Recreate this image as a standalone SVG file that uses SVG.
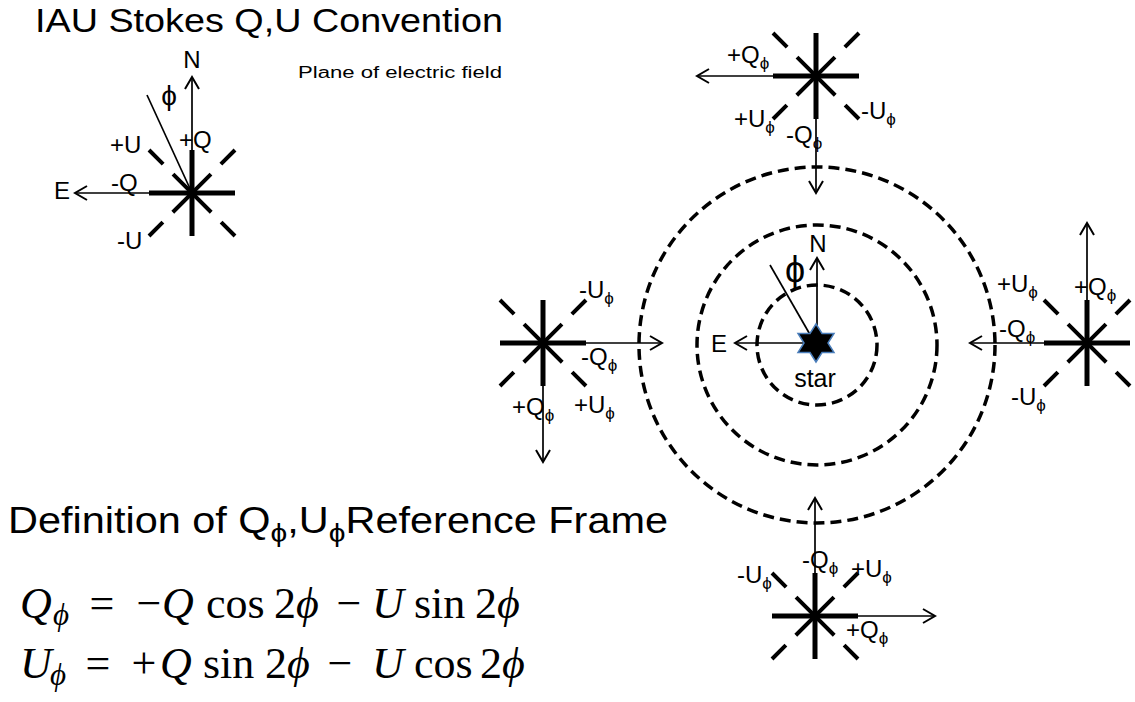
<svg xmlns="http://www.w3.org/2000/svg" xmlns:xlink="http://www.w3.org/1999/xlink" width="1135" height="702" viewBox="0 0 1135 702">
<style>
.thick{stroke:#000;stroke-width:5;fill:none}
.diag{stroke:#000;stroke-width:4;fill:none;stroke-dasharray:20 14 54 14 20}
.thin{stroke:#000;stroke-width:1.7;fill:none}
.arr{marker-end:url(#ah)}
.ring{fill:none;stroke:#000;stroke-width:3.5;stroke-dasharray:11 6}
.sans{font-family:"Liberation Sans","DejaVu Sans",Arial,sans-serif;fill:#000}
.lbl{font-size:24px}
.sub{font-size:17px}
.big{font-size:24px}
.math{font-family:"Liberation Serif","Times New Roman",serif;font-size:44px;fill:#000}
.it{font-style:italic}
.msub{font-size:31px;font-style:italic}
</style>
<defs>
<marker id="ah" markerUnits="userSpaceOnUse" markerWidth="16" markerHeight="16" refX="13" refY="8" orient="auto">
<path d="M1,1 L13,8 L1,15" fill="none" stroke="#000" stroke-width="2"/>
</marker>
<g id="cross">
<line x1="-43" y1="0" x2="43" y2="0" class="thick"/>
<line x1="0" y1="-43" x2="0" y2="43" class="thick"/>
<line x1="-43" y1="-43" x2="43" y2="43" class="diag"/>
<line x1="43" y1="-43" x2="-43" y2="43" class="diag"/>
</g>
</defs>
<rect width="1135" height="702" fill="#fff"/>

<g id="title">
<text x="35" y="32" class="sans" font-size="34" textLength="468" lengthAdjust="spacingAndGlyphs">IAU Stokes Q,U Convention</text>
</g>
<g id="subtitle">
<text x="298" y="78" class="sans" font-size="16" textLength="204" lengthAdjust="spacingAndGlyphs">Plane of electric field</text>
</g>

<g id="rings">
<circle cx="817" cy="345" r="178" class="ring"/>
<circle cx="817" cy="345" r="120" class="ring"/>
<circle cx="817" cy="345" r="60" class="ring"/>
</g>

<g id="connectors">
<line x1="192" y1="193" x2="192" y2="77" class="thin arr"/>
<line x1="192" y1="193" x2="75" y2="193" class="thin arr"/>
<line x1="192" y1="193" x2="147" y2="95" class="thin"/>
<line x1="816" y1="76" x2="697" y2="76" class="thin arr"/>
<line x1="816" y1="76" x2="816" y2="193" class="thin arr"/>
<line x1="543" y1="343" x2="662" y2="343" class="thin arr"/>
<line x1="543" y1="343" x2="543" y2="462" class="thin arr"/>
<line x1="1087" y1="343" x2="970" y2="343" class="thin arr"/>
<line x1="1087" y1="343" x2="1087" y2="223" class="thin arr"/>
<line x1="815" y1="616" x2="935" y2="616" class="thin arr"/>
<line x1="815" y1="616" x2="815" y2="498" class="thin arr"/>
<line x1="817" y1="343" x2="817" y2="258" class="thin arr"/>
<line x1="817" y1="343" x2="735" y2="343" class="thin arr"/>
<line x1="812" y1="338" x2="770" y2="265" class="thin"/>
</g>

<g id="compass-iau">
<use xlink:href="#cross" href="#cross" x="192" y="193"/>
<text x="192" y="68" class="sans big" text-anchor="middle">N</text>
<text x="169" y="105" class="sans" font-size="28" text-anchor="middle">ϕ</text>
<text x="179" y="148" class="sans big">+Q</text>
<text x="110" y="153" class="sans big">+U</text>
<text x="111" y="191" class="sans big">-Q</text>
<text x="54" y="199" class="sans big">E</text>
<text x="117" y="249" class="sans big">-U</text>
</g>

<g id="cross-top">
<use xlink:href="#cross" href="#cross" x="816" y="76"/>
<text x="727" y="63" class="sans lbl">+Q<tspan class="sub" dy="6">ϕ</tspan></text>
<text x="734" y="127" class="sans lbl">+U<tspan class="sub" dy="6">ϕ</tspan></text>
<text x="786" y="143" class="sans lbl">-Q<tspan class="sub" dy="6">ϕ</tspan></text>
<text x="861" y="119" class="sans lbl">-U<tspan class="sub" dy="6">ϕ</tspan></text>
</g>

<g id="cross-left">
<use xlink:href="#cross" href="#cross" x="543" y="343"/>
<text x="579" y="298" class="sans lbl">-U<tspan class="sub" dy="6">ϕ</tspan></text>
<text x="581" y="365" class="sans lbl">-Q<tspan class="sub" dy="6">ϕ</tspan></text>
<text x="512" y="415" class="sans lbl">+Q<tspan class="sub" dy="6">ϕ</tspan></text>
<text x="574" y="413" class="sans lbl">+U<tspan class="sub" dy="6">ϕ</tspan></text>
</g>

<g id="cross-right">
<use xlink:href="#cross" href="#cross" x="1087" y="343"/>
<text x="997" y="292" class="sans lbl">+U<tspan class="sub" dy="6">ϕ</tspan></text>
<text x="1074" y="295" class="sans lbl">+Q<tspan class="sub" dy="6">ϕ</tspan></text>
<text x="999" y="337" class="sans lbl">-Q<tspan class="sub" dy="6">ϕ</tspan></text>
<text x="1011" y="405" class="sans lbl">-U<tspan class="sub" dy="6">ϕ</tspan></text>
</g>

<g id="cross-bottom">
<use xlink:href="#cross" href="#cross" x="815" y="616"/>
<text x="737" y="583" class="sans lbl">-U<tspan class="sub" dy="6">ϕ</tspan></text>
<text x="802" y="568" class="sans lbl">-Q<tspan class="sub" dy="6">ϕ</tspan></text>
<text x="851" y="577" class="sans lbl">+U<tspan class="sub" dy="6">ϕ</tspan></text>
<text x="846" y="638" class="sans lbl">+Q<tspan class="sub" dy="6">ϕ</tspan></text>
</g>

<g id="star">
<polygon points="816,324 822,333.5 834,333.5 828,343 834,352.5 822,352.5 816,362 810,352.5 798,352.5 804,343 798,333.5 810,333.5" fill="#000" stroke="#4a7ebb" stroke-width="1.5"/>
<text x="818" y="252" class="sans big" text-anchor="middle">N</text>
<text x="711" y="352" class="sans big">E</text>
<text x="795" y="282" class="sans" font-size="36" text-anchor="middle">ϕ</text>
<text x="815" y="387" class="sans" font-size="25" text-anchor="middle">star</text>
</g>

<g id="definition">
<text x="8" y="533" class="sans" font-size="36" textLength="660" lengthAdjust="spacingAndGlyphs">Definition of Q<tspan font-size="26" dy="9">ϕ</tspan><tspan dy="-9">,U</tspan><tspan font-size="26" dy="9">ϕ</tspan><tspan dy="-9">Reference Frame</tspan></text>
</g>

<g id="eq1">
<text y="618" class="math"><tspan x="20" class="it">Q</tspan><tspan x="53" dy="7" class="msub">ϕ</tspan><tspan x="102" dy="-7" text-anchor="middle">=</tspan><tspan x="149" text-anchor="middle">−</tspan><tspan x="162" class="it">Q</tspan><tspan x="206">cos</tspan><tspan x="274">2</tspan><tspan x="296" class="it">ϕ</tspan><tspan x="349" text-anchor="middle">−</tspan><tspan x="372" class="it">U</tspan><tspan x="414">sin</tspan><tspan x="475">2</tspan><tspan x="497" class="it">ϕ</tspan></text>
</g>
<g id="eq2">
<text y="678" class="math"><tspan x="20" class="it">U</tspan><tspan x="50" dy="7" class="msub">ϕ</tspan><tspan x="98" dy="-7" text-anchor="middle">=</tspan><tspan x="144" text-anchor="middle">+</tspan><tspan x="160" class="it">Q</tspan><tspan x="203">sin</tspan><tspan x="265">2</tspan><tspan x="287" class="it">ϕ</tspan><tspan x="340" text-anchor="middle">−</tspan><tspan x="372" class="it">U</tspan><tspan x="414">cos</tspan><tspan x="480">2</tspan><tspan x="502" class="it">ϕ</tspan></text>
</g>
</svg>
